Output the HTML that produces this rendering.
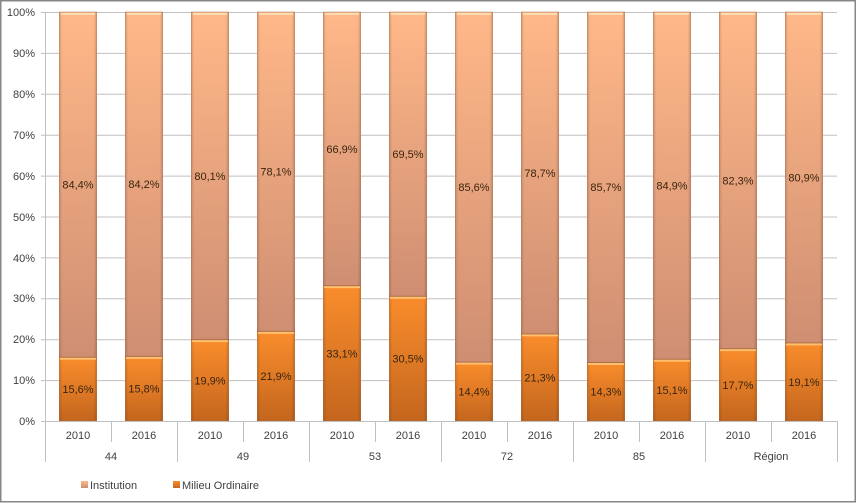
<!DOCTYPE html>
<html><head><meta charset="utf-8"><style>
html,body{margin:0;padding:0;background:#fff;}
svg{display:block;}
text{font-family:"Liberation Sans",sans-serif;}
</style></head><body>
<svg width="856" height="503" viewBox="0 0 856 503" xmlns="http://www.w3.org/2000/svg">
<defs>
<linearGradient id="gi" x1="0" y1="0" x2="0" y2="1"><stop offset="0" stop-color="#FFB888"/><stop offset="1" stop-color="#CF8E72"/></linearGradient>
<linearGradient id="gm" x1="0" y1="0" x2="0" y2="1"><stop offset="0" stop-color="#FA8D2C"/><stop offset="1" stop-color="#C4661E"/></linearGradient>
<linearGradient id="sh" x1="0" y1="0" x2="1" y2="0"><stop offset="0" stop-color="#000" stop-opacity="0.12"/><stop offset="0.08" stop-color="#000" stop-opacity="0"/><stop offset="0.92" stop-color="#000" stop-opacity="0"/><stop offset="1" stop-color="#000" stop-opacity="0.15"/></linearGradient>
</defs>
<rect x="0.75" y="0.75" width="854.5" height="501" fill="#fff" stroke="#878787" stroke-width="1.5"/>
<g stroke="#C0C0C0" stroke-width="1">
<line x1="41" y1="12.5" x2="837" y2="12.5"/>
<line x1="41" y1="53.4" x2="837" y2="53.4"/>
<line x1="41" y1="94.3" x2="837" y2="94.3"/>
<line x1="41" y1="135.2" x2="837" y2="135.2"/>
<line x1="41" y1="176.1" x2="837" y2="176.1"/>
<line x1="41" y1="217" x2="837" y2="217"/>
<line x1="41" y1="257.9" x2="837" y2="257.9"/>
<line x1="41" y1="298.8" x2="837" y2="298.8"/>
<line x1="41" y1="339.7" x2="837" y2="339.7"/>
<line x1="41" y1="380.6" x2="837" y2="380.6"/>
<line x1="41" y1="421.5" x2="837" y2="421.5"/>
<line x1="45.5" y1="12" x2="45.5" y2="462"/>
<line x1="111.5" y1="421" x2="111.5" y2="442"/>
<line x1="177.5" y1="421" x2="177.5" y2="462"/>
<line x1="243.5" y1="421" x2="243.5" y2="442"/>
<line x1="309.5" y1="421" x2="309.5" y2="462"/>
<line x1="375.5" y1="421" x2="375.5" y2="442"/>
<line x1="441.5" y1="421" x2="441.5" y2="462"/>
<line x1="507.5" y1="421" x2="507.5" y2="442"/>
<line x1="573.5" y1="421" x2="573.5" y2="462"/>
<line x1="639.5" y1="421" x2="639.5" y2="442"/>
<line x1="705.5" y1="421" x2="705.5" y2="462"/>
<line x1="771.5" y1="421" x2="771.5" y2="442"/>
<line x1="837.5" y1="421" x2="837.5" y2="462"/>
</g>
<g font-size="11" fill="#404040" text-anchor="end">
<text x="35" y="16">100%</text>
<text x="35" y="57">90%</text>
<text x="35" y="98">80%</text>
<text x="35" y="139">70%</text>
<text x="35" y="180">60%</text>
<text x="35" y="221">50%</text>
<text x="35" y="262">40%</text>
<text x="35" y="302">30%</text>
<text x="35" y="343">20%</text>
<text x="35" y="384">10%</text>
<text x="35" y="425">0%</text>
</g>
<g id="bars"></g>
<g font-size="11" fill="#404040" text-anchor="middle">
<text x="78" y="439">2010</text><text x="144" y="439">2016</text>
<text x="210" y="439">2010</text><text x="276" y="439">2016</text>
<text x="342" y="439">2010</text><text x="408" y="439">2016</text>
<text x="474" y="439">2010</text><text x="540" y="439">2016</text>
<text x="606" y="439">2010</text><text x="672" y="439">2016</text>
<text x="738" y="439">2010</text><text x="804" y="439">2016</text>
<text x="111" y="460">44</text>
<text x="243" y="460">49</text>
<text x="375" y="460">53</text>
<text x="507" y="460">72</text>
<text x="639" y="460">85</text>
<text x="771" y="460">Région</text>
</g>
<rect x="81" y="481" width="7" height="7" fill="url(#gi)"/>
<text x="90" y="489" font-size="11" fill="#404040">Institution</text>
<rect x="173" y="481" width="7" height="7" fill="url(#gm)"/>
<text x="182" y="489" font-size="11" fill="#404040">Milieu Ordinaire</text>
<!-- bars -->
<g>
<!-- helper layout: x = center-19, width 38 -->
<g font-size="11" fill="#3a2510" text-anchor="middle">
<!-- 44 2010: 15.6 -->
<rect x="59" y="12" width="38" height="345.2" fill="url(#gi)"/><rect x="59" y="357.2" width="38" height="63.8" fill="url(#gm)"/>
<!-- 44 2016: 15.8 -->
<rect x="125" y="12" width="38" height="344.4" fill="url(#gi)"/><rect x="125" y="356.4" width="38" height="64.6" fill="url(#gm)"/>
<!-- 49 2010: 19.9 -->
<rect x="191" y="12" width="38" height="327.6" fill="url(#gi)"/><rect x="191" y="339.6" width="38" height="81.4" fill="url(#gm)"/>
<!-- 49 2016: 21.9 -->
<rect x="257" y="12" width="38" height="319.4" fill="url(#gi)"/><rect x="257" y="331.4" width="38" height="89.6" fill="url(#gm)"/>
<!-- 53 2010: 33.1 -->
<rect x="323" y="12" width="38" height="273.6" fill="url(#gi)"/><rect x="323" y="285.6" width="38" height="135.4" fill="url(#gm)"/>
<!-- 53 2016: 30.5 -->
<rect x="389" y="12" width="38" height="284.3" fill="url(#gi)"/><rect x="389" y="296.3" width="38" height="124.7" fill="url(#gm)"/>
<!-- 72 2010: 14.4 -->
<rect x="455" y="12" width="38" height="350.1" fill="url(#gi)"/><rect x="455" y="362.1" width="38" height="58.9" fill="url(#gm)"/>
<!-- 72 2016: 21.3 -->
<rect x="521" y="12" width="38" height="321.9" fill="url(#gi)"/><rect x="521" y="333.9" width="38" height="87.1" fill="url(#gm)"/>
<!-- 85 2010: 14.3 -->
<rect x="587" y="12" width="38" height="350.5" fill="url(#gi)"/><rect x="587" y="362.5" width="38" height="58.5" fill="url(#gm)"/>
<!-- 85 2016: 15.1 -->
<rect x="653" y="12" width="38" height="347.2" fill="url(#gi)"/><rect x="653" y="359.2" width="38" height="61.8" fill="url(#gm)"/>
<!-- Region 2010: 17.7 -->
<rect x="719" y="12" width="38" height="336.6" fill="url(#gi)"/><rect x="719" y="348.6" width="38" height="72.4" fill="url(#gm)"/>
<!-- Region 2016: 19.1 -->
<rect x="785" y="12" width="38" height="330.9" fill="url(#gi)"/><rect x="785" y="342.9" width="38" height="78.1" fill="url(#gm)"/>
</g>
<!-- side shading and outlines -->
<g fill="url(#sh)" stroke="#9a6a50" stroke-opacity="0.45" stroke-width="1">
<rect x="59.5" y="12" width="37" height="409"/><rect x="125.5" y="12" width="37" height="409"/>
<rect x="191.5" y="12" width="37" height="409"/><rect x="257.5" y="12" width="37" height="409"/>
<rect x="323.5" y="12" width="37" height="409"/><rect x="389.5" y="12" width="37" height="409"/>
<rect x="455.5" y="12" width="37" height="409"/><rect x="521.5" y="12" width="37" height="409"/>
<rect x="587.5" y="12" width="37" height="409"/><rect x="653.5" y="12" width="37" height="409"/>
<rect x="719.5" y="12" width="37" height="409"/><rect x="785.5" y="12" width="37" height="409"/>
</g>
<!-- top highlights -->
<g fill="#FFE2B8" opacity="0.85">
<rect x="61" y="13" width="34" height="2"/><rect x="127" y="13" width="34" height="2"/>
<rect x="193" y="13" width="34" height="2"/><rect x="259" y="13" width="34" height="2"/>
<rect x="325" y="13" width="34" height="2"/><rect x="391" y="13" width="34" height="2"/>
<rect x="457" y="13" width="34" height="2"/><rect x="523" y="13" width="34" height="2"/>
<rect x="589" y="13" width="34" height="2"/><rect x="655" y="13" width="34" height="2"/>
<rect x="721" y="13" width="34" height="2"/><rect x="787" y="13" width="34" height="2"/>
</g>
<g fill="#FFC070">
<rect x="60" y="357.7" width="36" height="2"/><rect x="126" y="356.9" width="36" height="2"/>
<rect x="192" y="340.1" width="36" height="2"/><rect x="258" y="331.9" width="36" height="2"/>
<rect x="324" y="286.1" width="36" height="2"/><rect x="390" y="296.8" width="36" height="2"/>
<rect x="456" y="362.6" width="36" height="2"/><rect x="522" y="334.4" width="36" height="2"/>
<rect x="588" y="363" width="36" height="2"/><rect x="654" y="359.7" width="36" height="2"/>
<rect x="720" y="349.1" width="36" height="2"/><rect x="786" y="343.4" width="36" height="2"/>
</g>
<g stroke="#8a5a40" stroke-opacity="0.6" stroke-width="1">
<line x1="59" y1="357.2" x2="97" y2="357.2"/><line x1="125" y1="356.4" x2="163" y2="356.4"/>
<line x1="191" y1="339.6" x2="229" y2="339.6"/><line x1="257" y1="331.4" x2="295" y2="331.4"/>
<line x1="323" y1="285.6" x2="361" y2="285.6"/><line x1="389" y1="296.3" x2="427" y2="296.3"/>
<line x1="455" y1="362.1" x2="493" y2="362.1"/><line x1="521" y1="333.9" x2="559" y2="333.9"/>
<line x1="587" y1="362.5" x2="625" y2="362.5"/><line x1="653" y1="359.2" x2="691" y2="359.2"/>
<line x1="719" y1="348.6" x2="757" y2="348.6"/><line x1="785" y1="342.9" x2="823" y2="342.9"/>
</g>
<g font-size="11" fill="#3a2510" text-anchor="middle">
<text x="78" y="188.6">84,4%</text><text x="78" y="393">15,6%</text>
<text x="144" y="188.2">84,2%</text><text x="144" y="392.7">15,8%</text>
<text x="210" y="179.8">80,1%</text><text x="210" y="384.3">19,9%</text>
<text x="276" y="175.7">78,1%</text><text x="276" y="380.2">21,9%</text>
<text x="342" y="152.8">66,9%</text><text x="342" y="357.3">33,1%</text>
<text x="408" y="158.2">69,5%</text><text x="408" y="362.6">30,5%</text>
<text x="474" y="191">85,6%</text><text x="474" y="395.5">14,4%</text>
<text x="540" y="177">78,7%</text><text x="540" y="381.4">21,3%</text>
<text x="606" y="191.2">85,7%</text><text x="606" y="395.7">14,3%</text>
<text x="672" y="189.6">84,9%</text><text x="672" y="394.1">15,1%</text>
<text x="738" y="184.3">82,3%</text><text x="738" y="388.8">17,7%</text>
<text x="804" y="181.4">80,9%</text><text x="804" y="386">19,1%</text>
</g>
</g>
<line x1="45" y1="421.5" x2="837" y2="421.5" stroke="#C0C0C0" stroke-width="1"/>
</svg>
</body></html>
